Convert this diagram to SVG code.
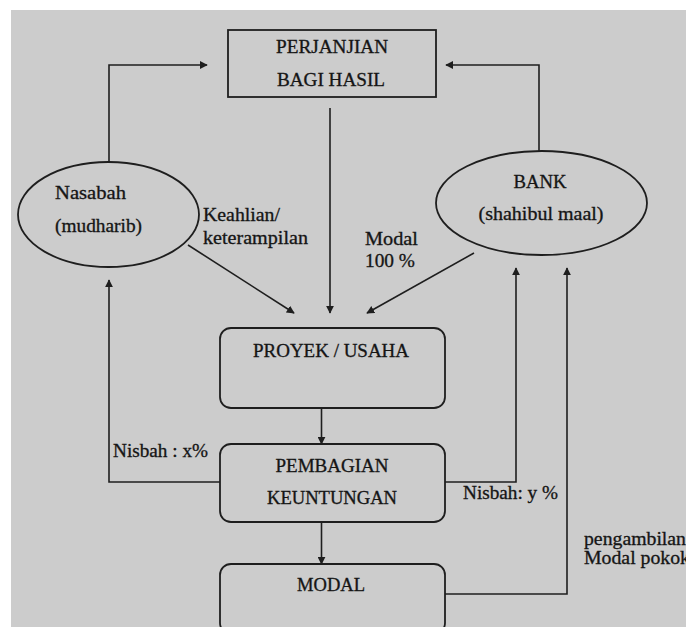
<svg xmlns="http://www.w3.org/2000/svg" width="686" height="627" viewBox="0 0 686 627">
<style>
.t{font-family:'Liberation Serif','DejaVu Serif','Times New Roman',serif;font-size:18px;fill:#151515;stroke:#151515;stroke-width:0.3}
.c{text-anchor:middle}
.s{fill:none;stroke:#1e1e1e;stroke-width:1.6}
.b{fill:#cccccc;stroke:#1e1e1e;stroke-width:1.8}
</style>
<defs>
<marker id="ah" viewBox="0 0 10 10" refX="9" refY="5" markerWidth="8" markerHeight="8" markerUnits="userSpaceOnUse" orient="auto">
<path d="M0,0 L10,5 L0,10 z" fill="#1e1e1e"/>
</marker>
</defs>
<rect x="0" y="0" width="686" height="627" fill="#ffffff"/>
<rect x="11" y="10" width="675" height="617" fill="#cccccc"/>

<g id="perjanjian">
<rect class="b" x="228" y="30" width="208" height="67"/>
<text class="t c" x="332" y="53" textLength="112" lengthAdjust="spacingAndGlyphs">PERJANJIAN</text>
<text class="t c" x="331" y="86" textLength="108" lengthAdjust="spacingAndGlyphs">BAGI HASIL</text>
</g>

<g id="nasabah">
<ellipse class="b" cx="108.5" cy="214.5" rx="90.5" ry="52.5"/>
<text class="t" x="55" y="199" textLength="71" lengthAdjust="spacingAndGlyphs">Nasabah</text>
<text class="t" x="55" y="232" textLength="87" lengthAdjust="spacingAndGlyphs">(mudharib)</text>
</g>

<g id="bank">
<ellipse class="b" cx="541.5" cy="203" rx="105.5" ry="52"/>
<text class="t c" x="540" y="188" textLength="53" lengthAdjust="spacingAndGlyphs">BANK</text>
<text class="t c" x="541" y="220" textLength="125" lengthAdjust="spacingAndGlyphs">(shahibul maal)</text>
</g>

<g id="proyek">
<rect class="b" x="220" y="328" width="225" height="80" rx="11"/>
<text class="t c" x="331" y="357" textLength="156" lengthAdjust="spacingAndGlyphs">PROYEK / USAHA</text>
</g>

<g id="pembagian">
<rect class="b" x="220" y="444" width="225" height="78" rx="11"/>
<text class="t c" x="332" y="472" textLength="113" lengthAdjust="spacingAndGlyphs">PEMBAGIAN</text>
<text class="t c" x="332" y="504" textLength="130" lengthAdjust="spacingAndGlyphs">KEUNTUNGAN</text>
</g>

<g id="modal">
<rect class="b" x="220" y="564" width="225" height="70" rx="11"/>
<text class="t c" x="331" y="591" textLength="68" lengthAdjust="spacingAndGlyphs">MODAL</text>
</g>

<g id="connectors">
<polyline class="s" points="109,162 109,65 207,65" marker-end="url(#ah)"/>
<polyline class="s" points="539,151 539,65 446,65" marker-end="url(#ah)"/>
<line class="s" x1="330" y1="108" x2="330" y2="313" marker-end="url(#ah)"/>
<line class="s" x1="188" y1="245" x2="294" y2="313" marker-end="url(#ah)"/>
<line class="s" x1="474" y1="253" x2="367" y2="313" marker-end="url(#ah)"/>
<line class="s" x1="321.5" y1="408" x2="321.5" y2="444" marker-end="url(#ah)"/>
<line class="s" x1="321.5" y1="522" x2="321.5" y2="564" marker-end="url(#ah)"/>
<polyline class="s" points="220,482 109,482 109,280" marker-end="url(#ah)"/>
<polyline class="s" points="445,482 516,482 516,268" marker-end="url(#ah)"/>
<polyline class="s" points="445,594 567,594 567,268" marker-end="url(#ah)"/>
<text class="t" x="203" y="221" textLength="77" lengthAdjust="spacingAndGlyphs">Keahlian/</text>
<text class="t" x="203" y="244" textLength="105" lengthAdjust="spacingAndGlyphs">keterampilan</text>
<text class="t" x="365" y="245" textLength="53" lengthAdjust="spacingAndGlyphs">Modal</text>
<text class="t" x="365" y="267" textLength="50" lengthAdjust="spacingAndGlyphs">100 %</text>
<text class="t" x="113" y="457" textLength="95" lengthAdjust="spacingAndGlyphs">Nisbah : x%</text>
<text class="t" x="463" y="499" textLength="95" lengthAdjust="spacingAndGlyphs">Nisbah: y %</text>
<text class="t" x="584" y="545" textLength="102" lengthAdjust="spacingAndGlyphs">pengambilan</text>
<text class="t" x="584" y="564" textLength="106" lengthAdjust="spacingAndGlyphs">Modal pokok</text>
</g>
</svg>
